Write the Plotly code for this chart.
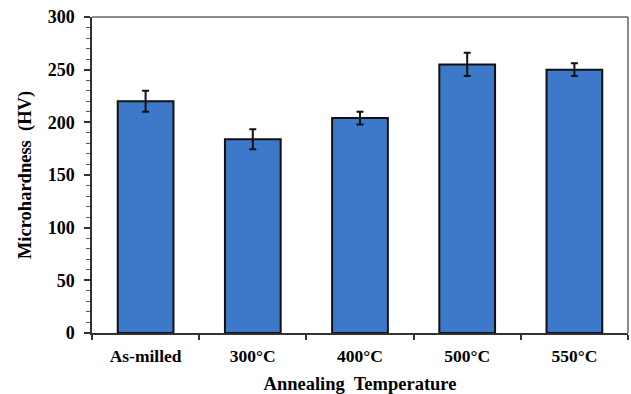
import plotly.graph_objects as go

categories = ["As-milled", "300°C", "400°C", "500°C", "550°C"]
hardness = [220, 184, 204, 255, 250]
errors = [10, 9.5, 6, 11, 6]

FONT = "Liberation Serif"

fig = go.Figure()
fig.add_trace(go.Bar(
    x=categories, y=hardness,
    width=0.52,
    marker=dict(color="#3c79c9", line=dict(color="#111111", width=2)),
    error_y=dict(type="data", array=errors, color="#111111", thickness=2, width=3.5),
))

fig.update_layout(
    width=631, height=394,
    margin=dict(l=92, r=3, t=17, b=61),
    paper_bgcolor="white", plot_bgcolor="white",
    showlegend=False,
    font=dict(family=FONT, color="black", size=16),
)
fig.update_xaxes(
    showline=True, linecolor="#333333", linewidth=1.5, mirror=False,
    ticks="outside", tickson="boundaries", ticklen=5, tickcolor="#333333", tickwidth=1.5,
    ticklabelstandoff=6,
    tickfont=dict(family=FONT, size=17.5, color="black", weight="bold"),
    title=dict(text="Annealing  Temperature", font=dict(family=FONT, size=18.5, color="black", weight="bold"), standoff=12),
    showgrid=False,
)
fig.update_yaxes(
    range=[0, 300], dtick=50,
    showline=True, linecolor="#333333", linewidth=1.5,
    ticks="outside", ticklen=6, tickcolor="#333333", tickwidth=1.5,
    ticklabelstandoff=6,
    minor=dict(dtick=10, ticks="outside", ticklen=4, tickcolor="#555555", tickwidth=1),
    tickfont=dict(family=FONT, size=18, color="black", weight="bold"),
    title=dict(text="Microhardness  (HV)", font=dict(family=FONT, size=18.5, color="black", weight="bold"), standoff=11),
    showgrid=False, zeroline=False,
)
# top and right frame lines
fig.add_shape(type="line", xref="paper", yref="paper", x0=0, x1=1, y0=1, y1=1,
              line=dict(color="#666666", width=1.5))
fig.add_shape(type="line", xref="paper", yref="paper", x0=1, x1=1, y0=0, y1=1,
              line=dict(color="#666666", width=1.5))

fig.write_html("out.html",
               config={"displayModeBar": False},
               post_script="document.body.style.margin='0';document.body.style.overflow='hidden';")
